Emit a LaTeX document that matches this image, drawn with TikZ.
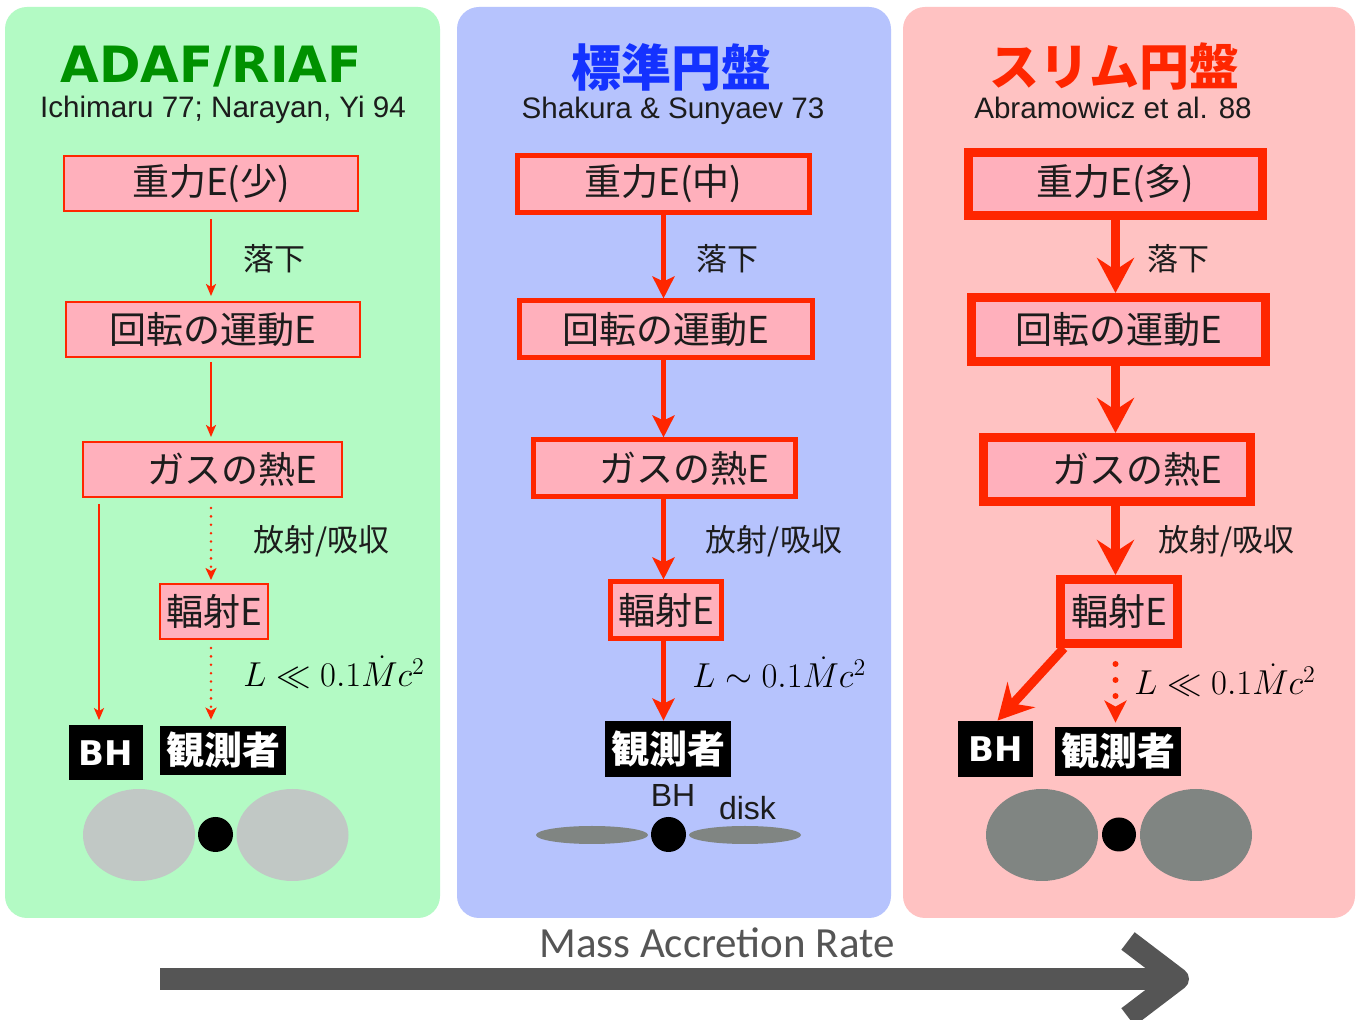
\documentclass[tikz,border=0pt]{standalone}
\usepackage[no-math]{fontspec}
\usetikzlibrary{arrows.meta}
\newfontfamily\jp{Noto Sans CJK JP}
\newfontfamily\lat{Liberation Sans}
\newfontfamily\dvb{DejaVu Sans}
\newfontfamily\ratefont{Carlito}

\definecolor{pgreen}{RGB}{179,250,196}
\definecolor{pblue}{RGB}{182,195,253}
\definecolor{ppink}{RGB}{255,194,194}
\definecolor{boxpink}{RGB}{255,176,188}
\definecolor{accred}{RGB}{255,38,0}
\definecolor{tgreen}{RGB}{0,145,0}
\definecolor{tblue}{RGB}{20,50,255}
\definecolor{lgray}{RGB}{193,200,197}
\definecolor{dgray}{RGB}{128,133,130}
\definecolor{axisgray}{RGB}{85,85,85}
\definecolor{ink}{RGB}{28,28,28}

\begin{document}
\begin{tikzpicture}[x=0.5pt,y=-0.5pt,
  ebox/.style={draw=accred, fill=boxpink, inner sep=0pt, text=ink,
    font=\jp\fontsize{18.5pt}{20pt}\selectfont},
  thinb/.style={ebox, line width=1pt, minimum height=27.5pt},
  midb/.style={ebox, line width=2.5pt, minimum height=28.5pt},
  thickb/.style={ebox, line width=4.5pt, minimum height=32pt},
  obsbox/.style={fill=black, text=white, inner sep=0pt, minimum width=63pt,
    font=\jp\bfseries\fontsize{19pt}{20pt}\selectfont},
  bhbox/.style={fill=black, text=white, inner sep=0pt,
    font=\dvb\bfseries\fontsize{17pt}{18pt}\selectfont},
  lab/.style={font=\jp\fontsize{15.5pt}{17pt}\selectfont, text=ink},
  mathlab/.style={font=\fontsize{17.2pt}{19pt}\selectfont, inner sep=0pt, anchor=base west},
  subt/.style={font=\lat\fontsize{14.8pt}{16pt}\selectfont, text=ink, anchor=base},
  thinarr/.style={draw=accred, line width=1pt, -{Stealth[width=5pt,length=6pt,inset=1.5pt]}},
  thindot/.style={draw=accred, line width=1.4pt, line cap=round, dash pattern=on 0pt off 4.2pt,
    -{Stealth[width=5.5pt,length=6pt,inset=1.5pt]}},
  midarr/.style={draw=accred, line width=2.5pt, -{Stealth[width=11pt,length=11pt,inset=2.5pt]}},
  bigarr/.style={draw=accred, line width=4.5pt, -{Stealth[width=18.5pt,length=17.5pt,inset=6pt]}},
  bigdot/.style={draw=accred, line width=3pt, line cap=round, dash pattern=on 0pt off 8pt,
    -{Stealth[width=11pt,length=11pt,inset=3pt]}}
]
\useasboundingbox (0,0) rectangle (1362,1020);
\fill[white] (0,0) rectangle (1362,1020);

% three background panels
\fill[pgreen, rounded corners=11pt] (5,7) rectangle (440,918);
\fill[pblue, rounded corners=11pt] (457,7) rectangle (891,918);
\fill[ppink, rounded corners=11pt] (903,7) rectangle (1355,918);

% titles and references
\node[font=\dvb\bfseries\fontsize{25pt}{26pt}\selectfont, text=tgreen, anchor=base, inner sep=0pt] (tadaf) at (211,83) {ADAF/RIAF};
\node[subt] (radaf) at (223,118) {Ichimaru 77; Narayan, Yi 94};
\node[font=\jp\bfseries\fontsize{25pt}{26pt}\selectfont, text=tblue, inner sep=0pt] (tstd) at (671.5,67) {標準円盤};
\node[subt] (rstd) at (673,119) {Shakura \& Sunyaev 73};
\node[font=\jp\bfseries\fontsize{25pt}{26pt}\selectfont, text=accred, inner sep=0pt] (tslim) at (1114.5,67) {スリム円盤};
\node[subt] (rslim) at (1113,119) {Abramowicz et al. 88};

% ---------- ADAF / RIAF ----------
\node[thinb, minimum width=147pt] (L1) at (211,183.5) {重力E(少)};
\node[thinb, minimum width=147pt] (L2) at (213,329.5) {回転の運動E};
\node[thinb, minimum width=129.5pt] (L3) at (212.5,469.5) {\hspace*{20pt}ガスの熱E};
\node[thinb, minimum width=54pt] (L4) at (214,611.5) {輻射E};
\node[bhbox, minimum width=37pt, minimum height=27.5pt] (lbh) at (105.5,753) {BH};
\node[obsbox, minimum height=24.5pt] (lobs) at (223,750.5) {観測者};

\draw[thinarr, shorten <=3.5pt, shorten >=2.5pt] (L1.south) -- (L1.south |- L2.north);
\draw[thinarr, shorten <=2pt, shorten >=2pt] (L1.south |- L2.south) -- (L1.south |- L3.north);
\draw[thindot, shorten <=5pt, shorten >=1.5pt] (L1.south |- L3.south) -- (L1.south |- L4.north);
\draw[thindot, shorten <=4pt, shorten >=3pt] (L1.south |- L4.south) -- (L1.south |- lobs.north);
\draw[thinarr, shorten <=3pt, shorten >=2.5pt] ([xshift=-3.25pt]lbh.north |- L3.south) -- ([xshift=-3.25pt]lbh.north);

\node[lab] (lfall) at (274,259) {落下};
\node[lab] (lrad) at (321.5,541) {放射/吸収};
\node[mathlab] (lL) at (243,687) {$L \ll 0.1\dot{M}c^2$};

\fill[lgray] (139,835) ellipse [x radius=56, y radius=46];
\fill[lgray] (292.5,835) ellipse [x radius=56, y radius=46];
\fill[black] (215.5,834.5) circle [radius=17.5];

% ---------- standard disk ----------
\node[midb, minimum width=146pt] (M1) at (663.5,184) {重力E(中)};
\node[midb, minimum width=146.5pt] (M2) at (666,329.5) {回転の運動E};
\node[midb, minimum width=131pt] (M3) at (664.5,468.5) {\hspace*{20pt}ガスの熱E};
\node[midb, minimum width=55.5pt] (M4) at (666,610.5) {輻射E};
\node[obsbox, minimum height=28pt] (mobs) at (668,749) {観測者};

\draw[midarr] (M1.south) -- (M1.south |- M2.north);
\draw[midarr] (M1.south |- M2.south) -- (M1.south |- M3.north);
\draw[midarr] (M1.south |- M3.south) -- (M1.south |- M4.north);
\draw[midarr] (M1.south |- M4.south) -- (M1.south |- mobs.north);

\node[lab] (mfall) at (727.5,259) {落下};
\node[lab] (mrad) at (774,541.5) {放射/吸収};
\node[mathlab] (mL) at (692,688) {$L \sim 0.1\dot{M}c^2$};

\node[font=\lat\fontsize{16pt}{17pt}\selectfont, text=ink, anchor=base, inner sep=0pt] (mbh) at (673,807) {BH};
\node[font=\lat\fontsize{16pt}{17pt}\selectfont, text=ink, anchor=base, inner sep=0pt] (mdisk) at (747.5,820) {disk};
\fill[dgray] (592,835) ellipse [x radius=56, y radius=9];
\fill[dgray] (745,835) ellipse [x radius=56, y radius=9];
\fill[black] (668.5,834.5) circle [radius=17.5];

% ---------- slim disk ----------
\node[thickb, minimum width=147pt, minimum height=31.5pt] (R1) at (1115.5,184) {重力E(多)};
\node[thickb, minimum width=147pt] (R2) at (1118.5,329.5) {回転の運動E};
\node[thickb, minimum width=133.5pt] (R3) at (1117,469.5) {\hspace*{20pt}ガスの熱E};
\node[thickb, minimum width=58.5pt] (R4) at (1119,611.5) {輻射E};
\node[bhbox, minimum width=37.5pt, minimum height=28pt] (rbh) at (995.5,749) {BH};
\node[obsbox, minimum height=24.5pt] (robs) at (1118,751.5) {観測者};

\draw[bigarr] (R1.south) -- (R1.south |- R2.north);
\draw[bigarr] (R1.south |- R2.south) -- (R1.south |- R3.north);
\draw[bigarr] (R1.south |- R3.south) -- (R1.south |- R4.north);
\draw[bigarr] ([xshift=4pt]R4.south west) -- ([xshift=1pt]rbh.north);
\draw[bigdot, shorten <=8pt, shorten >=2pt] (R1.south |- R4.south) -- (R1.south |- robs.north);

\node[lab] (rfall) at (1178.5,259) {落下};
\node[lab] (rrad) at (1226.5,541) {放射/吸収};
\node[mathlab] (rL) at (1134,695) {$L \ll 0.1\dot{M}c^2$};

\fill[dgray] (1042,835) ellipse [x radius=56, y radius=46];
\fill[dgray] (1196,835) ellipse [x radius=56, y radius=46];
\fill[black] (1119,834.5) circle [radius=17];

% ---------- accretion-rate axis ----------
\node[font=\ratefont\fontsize{21.5pt}{22pt}\selectfont, text=axisgray, anchor=base, inner sep=0pt] (rate) at (717,958) {Mass Accretion Rate};
\coordinate (axisStart) at (160,979);
\coordinate (axisEnd) at (1178,979);
\draw[axisgray, line width=11pt] (axisStart) -- (axisEnd);
\draw[axisgray, line width=11pt, line join=round] (axisEnd) ++(-50,-38) -- (axisEnd) -- ++(-50,38);
\end{tikzpicture}
\end{document}
